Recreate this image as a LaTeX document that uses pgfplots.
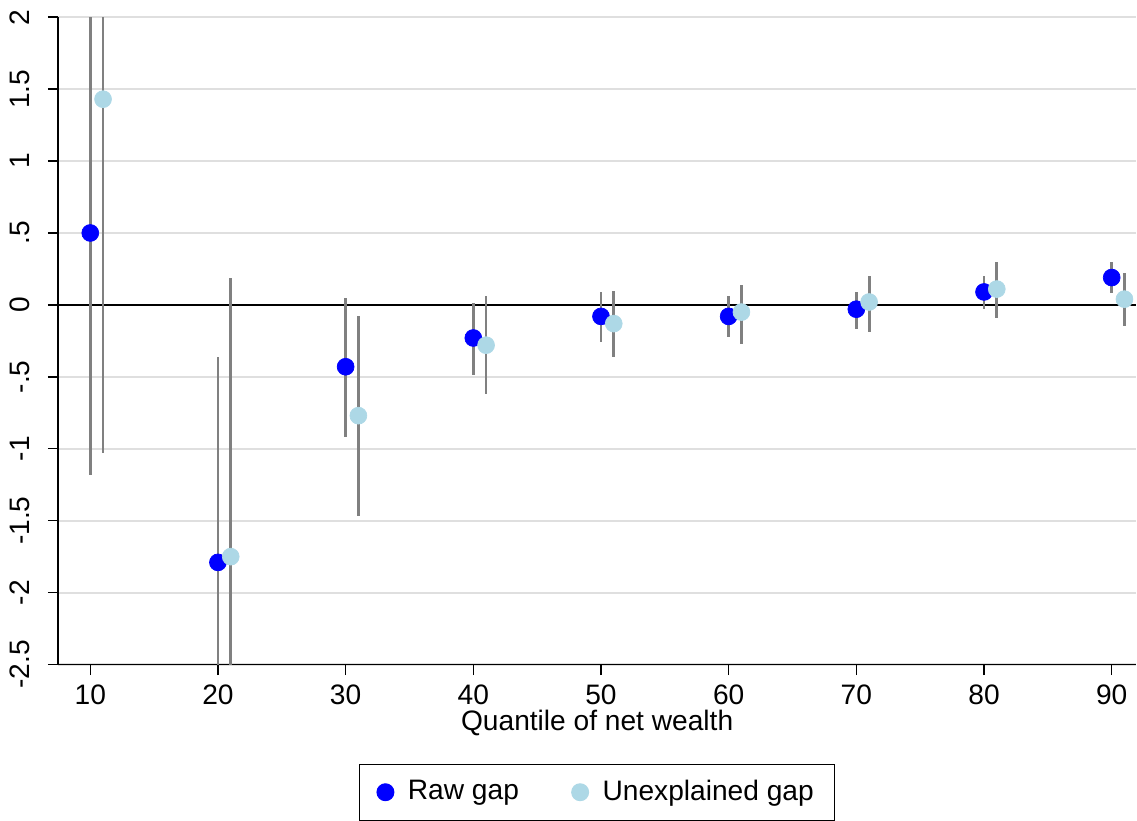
\documentclass[border=0pt]{standalone}
\usepackage{pgfplots}
\pgfplotsset{compat=1.18}
\usepackage{fontspec}
\setmainfont{Liberation Sans}
\definecolor{raw}{RGB}{0,0,255}
\definecolor{unx}{RGB}{173,216,230}
\begin{document}
\fontsize{16}{19}\selectfont
\begin{tikzpicture}
\begin{axis}[
  scale only axis, width=21.54cm, height=12.94cm,
  xmin=7.5, xmax=91.9, ymin=-2.5, ymax=2,
  axis lines*=left, axis line style={line width=1pt},
  xtick={10,20,...,90}, ytick={-2.5,-2,...,2},
  yticklabels={-2.5,-2,-1.5,-1,-.5,0,.5,1,1.5,2},
  yticklabel style={rotate=90, anchor=south, yshift=5pt},
  /pgf/number format/assume math mode=true,
  tick align=outside, major tick length=6pt, tick style={black, line width=0.8pt},
  ymajorgrids, grid style={gray!25, line width=1.2pt},
  xlabel={Quantile of net wealth}, xlabel style={yshift=8pt},
  legend columns=2,
  legend style={at={(0.5,-0.153)}, anchor=north, draw=black, line width=0.6pt,
    inner xsep=10pt, inner ysep=7pt,
    /tikz/every odd column/.append style={column sep=6pt},
    /tikz/every even column/.append style={column sep=28pt}},
  legend cell align=left,
  error bars/y dir=both, error bars/y explicit,
  error bars/error mark=none,
  error bars/error bar style={gray, line width=1.6pt},
]
\draw[black, line width=1.5pt] (axis cs:7.5,0) -- (axis cs:91.9,0);
\addplot[only marks, mark=*, mark size=4.8pt, mark options={draw=raw, fill=raw}]
 table[x=x, y=y, y error plus expr=\thisrow{hi}-\thisrow{y}, y error minus expr=\thisrow{y}-\thisrow{lo}] {
x y lo hi
10 0.50 -1.18 2.6
20 -1.79 -3 -0.36
30 -0.43 -0.92 0.05
40 -0.23 -0.49 0.01
50 -0.08 -0.26 0.09
60 -0.08 -0.22 0.06
70 -0.03 -0.17 0.09
80 0.09 -0.03 0.20
90 0.19 0.08 0.30
};
\addlegendentry{Raw gap}
\addplot[only marks, mark=*, mark size=4.8pt, mark options={draw=unx, fill=unx}]
 table[x=x, y=y, y error plus expr=\thisrow{hi}-\thisrow{y}, y error minus expr=\thisrow{y}-\thisrow{lo}] {
x y lo hi
11 1.43 -1.03 2.6
21 -1.75 -3 0.19
31 -0.77 -1.47 -0.08
41 -0.28 -0.62 0.06
51 -0.13 -0.36 0.10
61 -0.05 -0.27 0.14
71 0.02 -0.19 0.20
81 0.11 -0.09 0.30
91 0.04 -0.15 0.22
};
\addlegendentry{Unexplained gap}
\end{axis}
\end{tikzpicture}
\end{document}
